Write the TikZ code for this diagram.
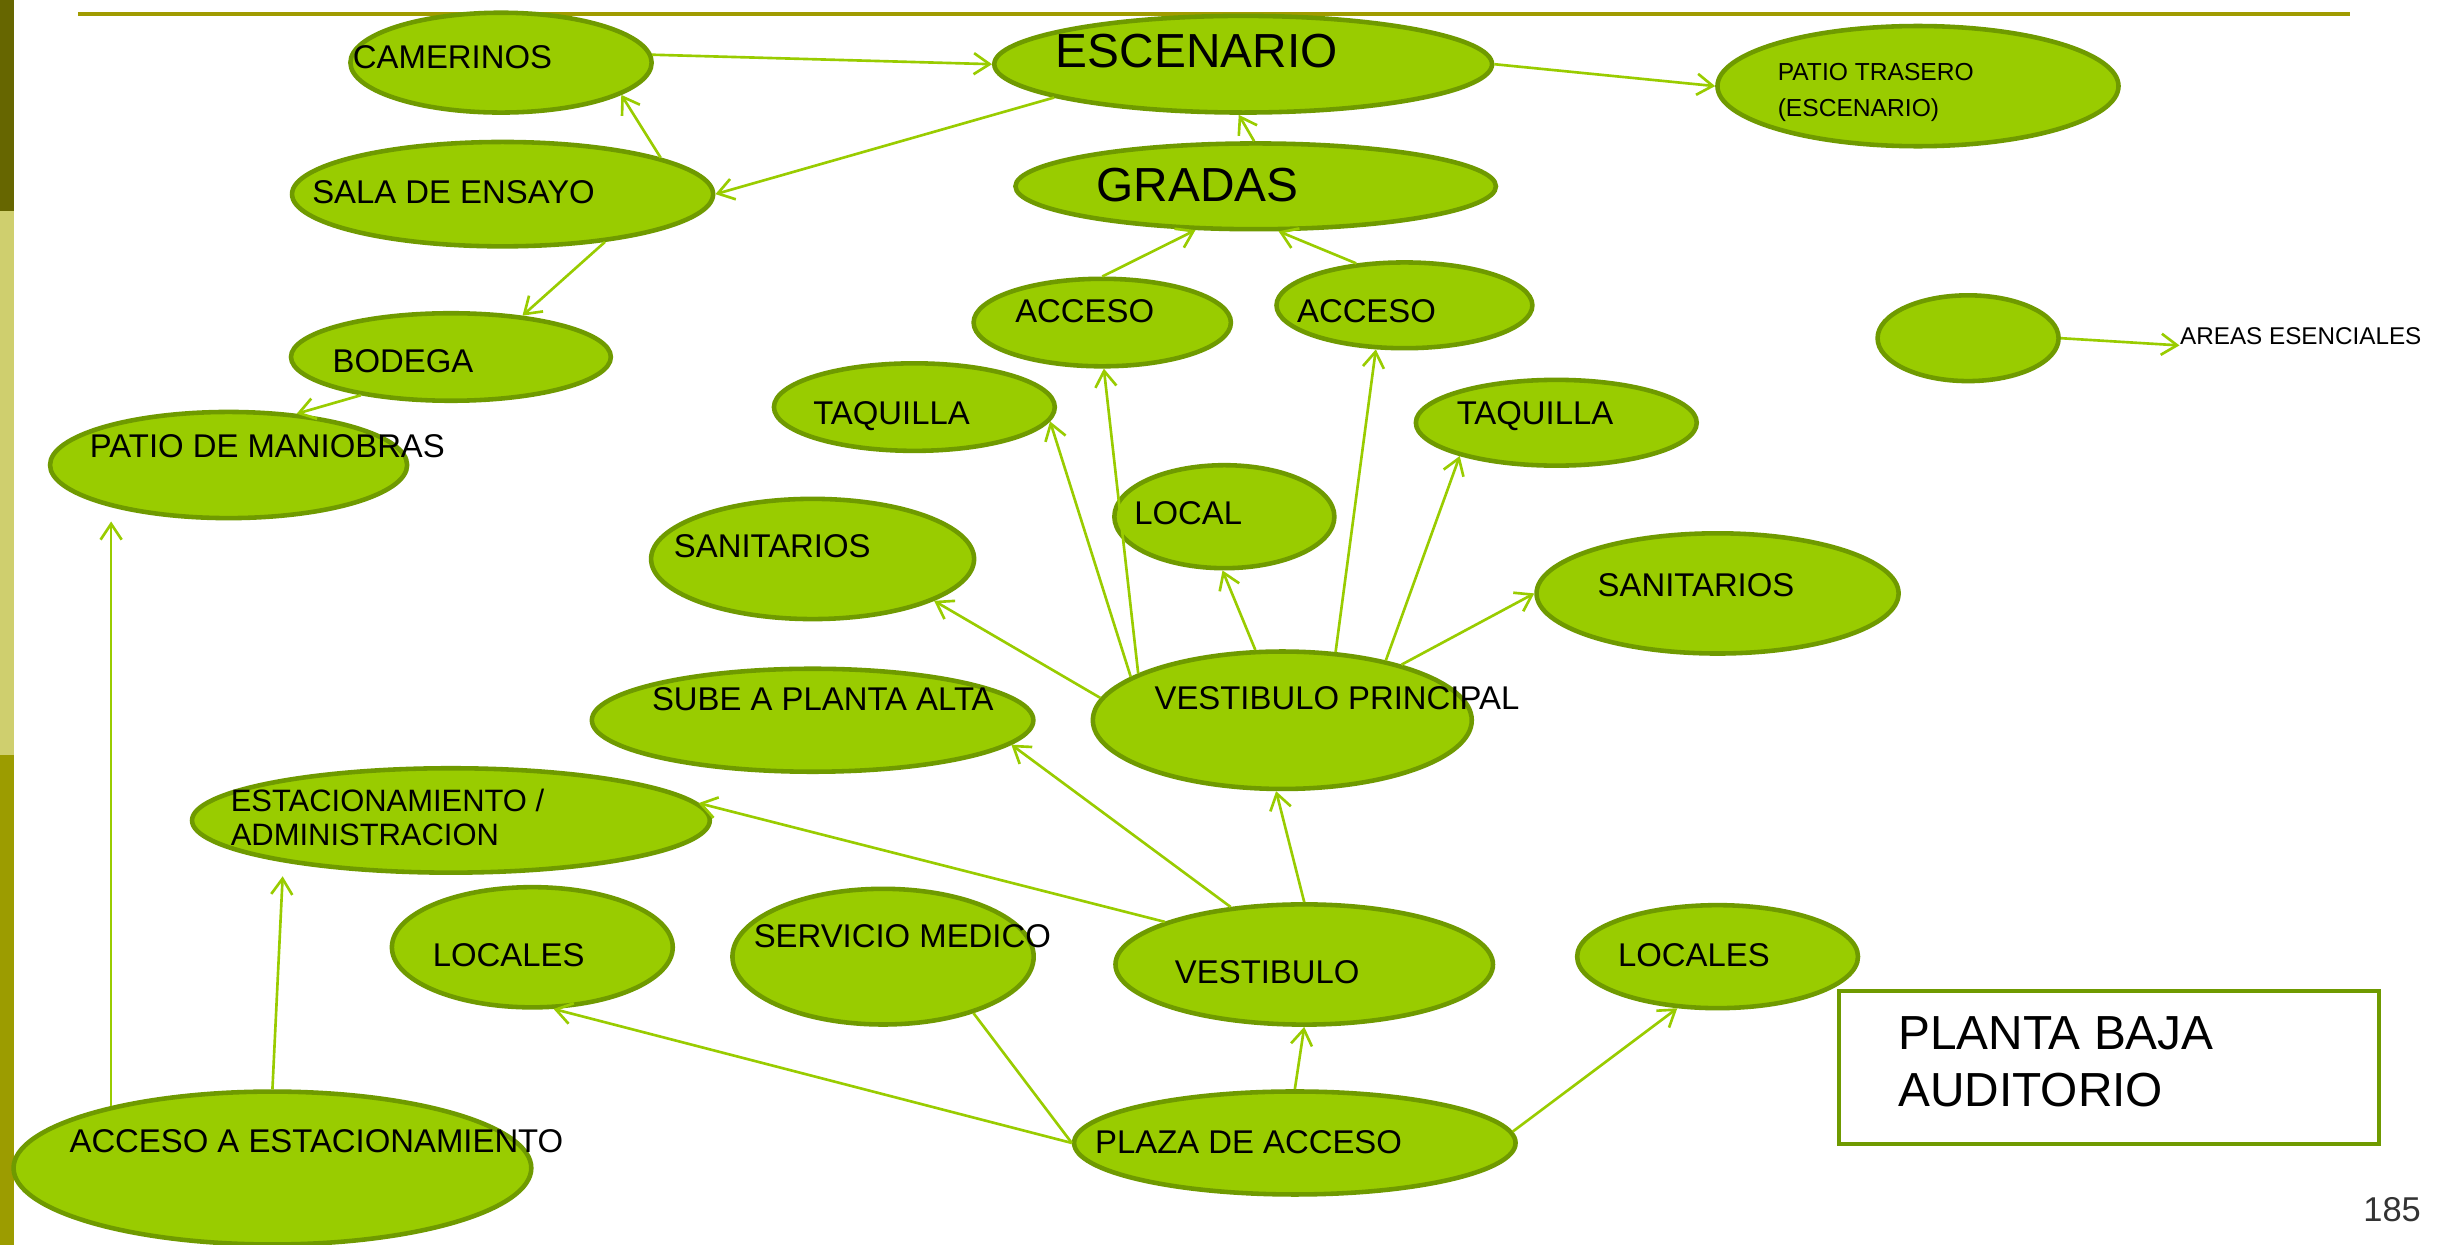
\documentclass[tikz,border=0pt]{standalone}
\usepackage{fontspec}
\setmainfont{Liberation Sans}
\usepackage{xcolor}
\usetikzlibrary{arrows.meta,shapes.geometric}
\definecolor{leaf}{HTML}{99CC00}
\definecolor{leafdark}{HTML}{6F9A00}
\definecolor{rulecol}{HTML}{A09B00}
\definecolor{bardark}{HTML}{666600}
\definecolor{barlight}{HTML}{CFCF6E}
\definecolor{barmid}{HTML}{9C9C00}

\begin{document}
\begin{tikzpicture}[x=0.015657cm,y=-0.015657cm,>={Straight Barb[length=4.5pt,width=6pt]},
	zone/.style 2 args={ellipse,draw=leafdark,fill=leaf,line width=1.3pt,inner sep=0pt,
		minimum width=#1pt,minimum height=#2pt},
	txt/.style={inner sep=0pt,anchor=base west,font=\fontsize{9.35}{11}\selectfont},
	big txt/.style={txt,font=\fontsize{13.6}{16}\selectfont},
	small txt/.style={txt,font=\fontsize{6.9}{9.8}\selectfont}]

    % page and side bar
    \fill[white] (0,0) rectangle (1568,795);
    \useasboundingbox (0,0) rectangle (1568,795);
    \fill[bardark] (0,0) rectangle (9,135);
    \fill[barlight] (0,135) rectangle (9,482);
    \fill[barmid] (0,482) rectangle (9,795);
    \draw[rulecol,line width=1pt] (50,9) -- (1501,9);

    % areas
    \node[zone={85.7}{28.4}] (cam) at (320,40) {};
    \node[zone={141.6}{27.5}] (esc) at (794,41) {};
    \node[zone={114.1}{34.2}] (pat) at (1225,55) {};
    \node[zone={119.8}{29.7}] (sala) at (321,124) {};
    \node[zone={136.7}{24.4}] (grad) at (802,119) {};
    \node[zone={91.0}{24.9}] (bod) at (288,228) {};
    \node[zone={73.2}{24.9}] (accL) at (704,206) {};
    \node[zone={72.8}{24.4}] (accR) at (897,195) {};
    \node[zone={51.5}{24.4}] (leg) at (1257,216) {};
    \node[zone={79.9}{24.9}] (taqL) at (584,260) {};
    \node[zone={79.9}{24.4}] (taqR) at (994,270) {};
    \node[zone={101.6}{30.2}] (mani) at (146,297) {};
    \node[zone={62.6}{29.3}] (local) at (782,330) {};
    \node[zone={91.9}{34.2}] (sanL) at (519,357) {};
    \node[zone={103.0}{34.2}] (sanR) at (1097,379) {};
    \node[zone={125.6}{29.3}] (sube) at (519,460) {};
    \node[zone={107.8}{39.1}] (vp) at (819,460) {};
    \node[zone={147.3}{29.7}] (estac) at (288,524) {};
    \node[zone={79.9}{34.2}] (locL) at (340,605) {};
    \node[zone={85.7}{38.6}] (serv) at (564,611) {};
    \node[zone={107.4}{34.2}] (vest) at (833,616) {};
    \node[zone={79.9}{29.3}] (locR) at (1097,611) {};
    \node[zone={125.6}{29.3}] (plaza) at (827,730) {};
    \node[zone={147.3}{43.5}] (accE) at (174,746) {};

    % title box
    \node[draw=leafdark,line width=1.2pt,fill=white,minimum width=153.6pt,minimum height=43.5pt] (box) at (1347,682) {};

    % labels
    \node[txt] (tcam) at (225,44) {CAMERINOS};
    \node[big txt] (tesc) at (674,43) {ESCENARIO};
    \node[txt,anchor=west,align=left,font=\fontsize{7}{10}\selectfont] (tpat) at (1135,59) {PATIO TRASERO\\(ESCENARIO)};
    \node[txt] (tsala) at (199,130) {SALA DE ENSAYO};
    \node[big txt] (tgrad) at (700,129) {GRADAS};
    \node[txt] (tbod) at (212,238) {BODEGA};
    \node[txt] (taccL) at (648,206) {ACCESO};
    \node[txt] (taccR) at (828,206) {ACCESO};
    \node[small txt] (areas) at (1392,220) {AREAS ESENCIALES};
    \node[txt] (ttaqL) at (519,271) {TAQUILLA};
    \node[txt] (ttaqR) at (930,271) {TAQUILLA};
    \node[txt] (tmani) at (57,292) {PATIO DE MANIOBRAS};
    \node[txt] (tlocal) at (724,335) {LOCAL};
    \node[txt] (tsanL) at (430,356) {SANITARIOS};
    \node[txt] (tsanR) at (1020,381) {SANITARIOS};
    \node[txt] (tsube) at (416,454) {SUBE A PLANTA ALTA};
    \node[txt] (tvp) at (737,453) {VESTIBULO PRINCIPAL};
    \node[txt,anchor=west,align=left,font=\fontsize{8.8}{9.8}\selectfont] (testac) at (147,522) {ESTACIONAMIENTO /\\ADMINISTRACION};
    \node[txt] (tlocL) at (276,617) {LOCALES};
    \node[txt] (tserv) at (481,605) {SERVICIO MEDICO};
    \node[txt] (tvest) at (750,628) {VESTIBULO};
    \node[txt] (tlocR) at (1033,617) {LOCALES};
    \node[txt] (tplaza) at (699,737) {PLAZA DE ACCESO};
    \node[txt] (taccE) at (44,736) {ACCESO A ESTACIONAMIENTO};
    \node[txt,anchor=west,align=left,font=\fontsize{13.6}{16.1}\selectfont] (tbox) at (1212,678) {PLANTA BAJA\\AUDITORIO};
    \node[txt,text=black!80,font=\fontsize{9.8}{11}\selectfont] (page) at (1509,780) {185};

    % connections
    \path[leaf,line width=.75pt,->]
	(cam.3) edge (esc.west)
	(esc.east) edge (pat.west)
	(esc.190) edge (sala.east)
	(sala.13) edge (cam.345)
	(sala.335) edge (bod.30)
	(bod.203) edge (mani.37)
	(grad.92) edge (esc.265)
	(accL.north) edge (grad.216)
	(accR.139) edge (grad.297)
	(vp.162) edge (accL.272)
	(vp.164) edge (taqL.354)
	(vp.111) edge (local.268)
	(vp.52) edge (accR.237)
	(vp.30) edge (taqR.199)
	(vp.25) edge (sanR.west)
	(vp.173) edge (sanL.341)
	(vest.north) edge (vp.265)
	(vest.142) edge (sube.353)
	(vest.163) edge (estac.4)
	(plaza.north) edge (vest.south)
	(plaza.west) edge (locL.289)
	(plaza.3) edge (locR.232)
	(accE.159) edge[shorten >=4pt] (accE.159 |- mani.200)
	(accE.north) edge[shorten >=4pt] (estac.194)
	(leg.east) edge (areas.south west)
	;
    \draw[leaf,line width=.75pt] (plaza.west) -- (serv.328);

\end{tikzpicture}
\end{document}
